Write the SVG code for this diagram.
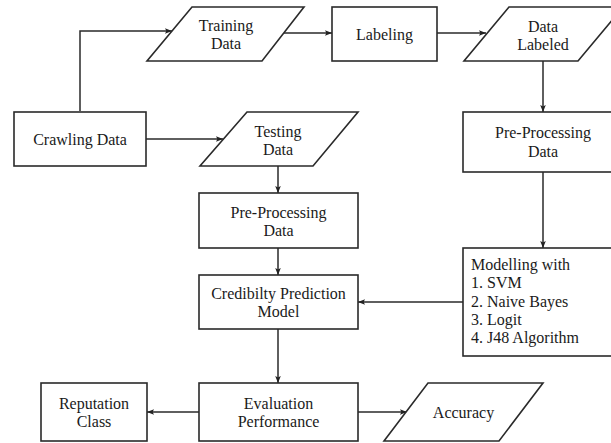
<svg xmlns="http://www.w3.org/2000/svg" width="611" height="443" viewBox="0 0 611 443">
<defs>
<marker id="ah" viewBox="0 0 10 10" refX="10" refY="5" markerWidth="9" markerHeight="7" markerUnits="userSpaceOnUse" orient="auto">
<path d="M0,1 L10,5 L0,9 L2,5 Z" fill="#222"/>
</marker>
<style>
.s{fill:#fff;stroke:#2a2a2a;stroke-width:1.6}
.t{font-family:"Liberation Serif","Times New Roman",serif;font-size:16px;fill:#1a1a1a;text-anchor:middle}
.l{font-family:"Liberation Serif","Times New Roman",serif;font-size:16px;fill:#1a1a1a}
.c{fill:none;stroke:#2a2a2a;stroke-width:1.5;marker-end:url(#ah)}
</style>
</defs>
<rect width="611" height="443" fill="#fff"/>
<g id="connectors">
<path class="c" d="M80,111 V31 H172"/>
<path class="c" d="M146,139 H223"/>
<path class="c" d="M284,33 H332"/>
<path class="c" d="M437,33 H486"/>
<path class="c" d="M543,61 V112"/>
<path class="c" d="M543,172 V248"/>
<path class="c" d="M278,166 V193"/>
<path class="c" d="M278,248 V275"/>
<path class="c" d="M463,302 H358"/>
<path class="c" d="M278,329 V383"/>
<path class="c" d="M199,412 H147"/>
<path class="c" d="M358,412 H407"/>
</g>
<g id="training-data">
<polygon class="s" points="192,7 304,7 262,61 147,61"/>
<text class="t" x="226" y="31">Training</text>
<text class="t" x="226" y="49">Data</text>
</g>
<g id="labeling">
<rect class="s" x="332" y="7" width="105" height="54"/>
<text class="t" x="384.5" y="40">Labeling</text>
</g>
<g id="data-labeled">
<polygon class="s" points="509,7 623,7 578,61 464,61"/>
<text class="t" x="543" y="32">Data</text>
<text class="t" x="543" y="50">Labeled</text>
</g>
<g id="crawling-data">
<rect class="s" x="14" y="112" width="132" height="54"/>
<text class="t" x="80" y="145">Crawling Data</text>
</g>
<g id="testing-data">
<polygon class="s" points="247,112 358,112 313,166 200,166"/>
<text class="t" x="278" y="137">Testing</text>
<text class="t" x="278" y="155">Data</text>
</g>
<g id="preprocessing-right">
<rect class="s" x="463" y="112" width="160" height="60"/>
<text class="t" x="543" y="138">Pre-Processing</text>
<text class="t" x="543" y="157">Data</text>
</g>
<g id="preprocessing-left">
<rect class="s" x="199" y="193" width="159" height="55"/>
<text class="t" x="278.5" y="218">Pre-Processing</text>
<text class="t" x="278.5" y="236">Data</text>
</g>
<g id="credibility-model">
<rect class="s" x="199" y="275" width="159" height="54"/>
<text class="t" x="278.5" y="299">Credibilty Prediction</text>
<text class="t" x="278.5" y="317">Model</text>
</g>
<g id="modelling">
<rect class="s" x="463" y="248" width="160" height="108"/>
<text class="l" x="471" y="270">Modelling with</text>
<text class="l" x="471" y="288">1. SVM</text>
<text class="l" x="471" y="307">2. Naive Bayes</text>
<text class="l" x="471" y="325">3. Logit</text>
<text class="l" x="471" y="343">4. J48 Algorithm</text>
</g>
<g id="evaluation">
<rect class="s" x="199" y="383" width="159" height="58"/>
<text class="t" x="278.5" y="409">Evaluation</text>
<text class="t" x="278.5" y="427">Performance</text>
</g>
<g id="reputation-class">
<rect class="s" x="41" y="383" width="106" height="58"/>
<text class="t" x="94" y="409">Reputation</text>
<text class="t" x="94" y="427">Class</text>
</g>
<g id="accuracy">
<polygon class="s" points="428,383 543,383 499,441 384,441"/>
<text class="t" x="463.5" y="418">Accuracy</text>
</g>
</svg>
